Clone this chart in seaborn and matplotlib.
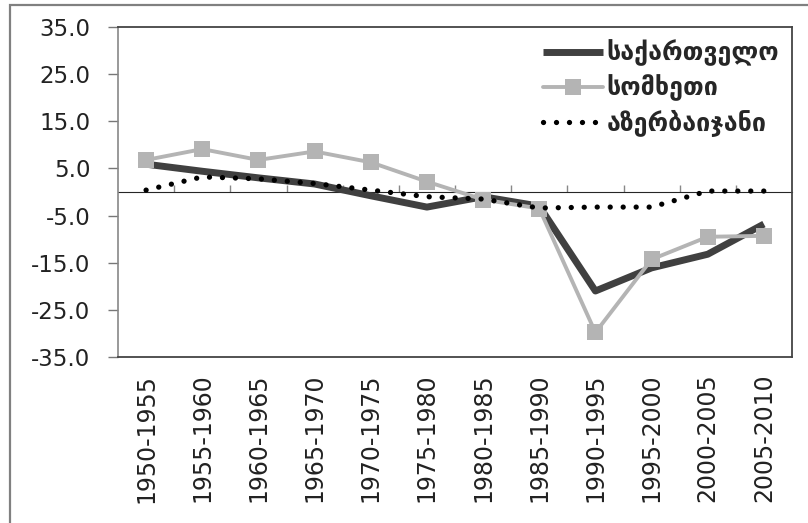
import matplotlib
matplotlib.use("Agg")
import matplotlib.pyplot as plt
import seaborn as sns
import pandas as pd
from matplotlib.patches import Rectangle

periods = ["1950-1955", "1955-1960", "1960-1965", "1965-1970", "1970-1975", "1975-1980",
           "1980-1985", "1985-1990", "1990-1995", "1995-2000", "2000-2005", "2005-2010"]
georgia = [5.9, 4.4, 3.0, 1.7, -0.8, -3.2, -1.0, -3.0, -21.0, -16.1, -13.2, -6.8]
armenia = [6.8, 9.1, 6.8, 8.6, 6.3, 2.2, -1.6, -3.5, -29.8, -14.3, -9.5, -9.3]
azerbaijan = [0.4, 3.2, 2.8, 1.8, 0.4, -1.0, -1.5, -3.4, -3.2, -3.2, 0.2, 0.2]
names = ["საქართველო", "სომხეთი", "აზერბაიჯანი"]
yticks = [-35, -25, -15, -5, 5, 15, 25, 35]

sns.set_style("white")
plt.rcParams['font.family'] = ['DejaVu Sans']

fig = plt.figure(figsize=(8.08, 5.23), dpi=100)
ax = fig.add_axes([118/808, 1-357/523, (792-118)/808, (357-27)/523])

df = pd.DataFrame({"period": periods, "g": georgia, "a": armenia, "z": azerbaijan})

sns.lineplot(data=df, x="period", y="g", ax=ax, color="#404040", linewidth=5,
             label=names[0], sort=False, solid_capstyle="butt")
sns.lineplot(data=df, x="period", y="a", ax=ax, color="#b4b4b4", linewidth=2.8,
             marker="s", markersize=11, markeredgewidth=0, label=names[1], sort=False)
sns.lineplot(data=df, x="period", y="z", ax=ax, color="black", linewidth=3.8,
             linestyle=(0, (0.01, 2.45)), dash_capstyle="round", label=names[2], sort=False)

ax.set_xlim(-0.5, len(periods) - 0.5)
ax.set_ylim(-35, 35)
ax.set_yticks(yticks)
ax.set_yticklabels([f"{v:.1f}" for v in yticks], fontsize=16.5, color="#222222")
ax.set_xticks(range(len(periods)))
ax.set_xticklabels(periods, rotation=90, fontsize=17, color="#222222")
ax.tick_params(axis="x", length=0, pad=12)
ax.tick_params(axis="y", length=7, width=1, color="#777777", direction="out", pad=13, left=True)
ax.set_xlabel("")
ax.set_ylabel("")

for side in ["top", "right", "bottom"]:
    ax.spines[side].set_color("#444444")
    ax.spines[side].set_linewidth(1.3)
ax.spines["left"].set_color("#888888")
ax.spines["left"].set_linewidth(1.2)

sec = ax.secondary_xaxis(0.5)
sec.set_xticks([i + 0.5 for i in range(len(periods) - 1)])
sec.set_xticklabels([])
sec.tick_params(axis="x", length=5, width=1, color="#888888", direction="out")
sec.spines["bottom"].set_color("#888888")
sec.spines["bottom"].set_linewidth(1.2)

leg = ax.legend(loc="upper right", frameon=False,
                prop={"family": "DejaVu Sans", "weight": "bold", "size": 18},
                handlelength=2.4, handletextpad=0.15, labelspacing=0.33,
                borderaxespad=0.1, bbox_to_anchor=(1.0, 1.0))

fig.patches.append(Rectangle((10/808, -0.05), 1.05, 1 - 5/523 + 0.05, transform=fig.transFigure,
                             fill=False, edgecolor="#808080", linewidth=1.6))

fig.savefig("out.png", dpi=100)
